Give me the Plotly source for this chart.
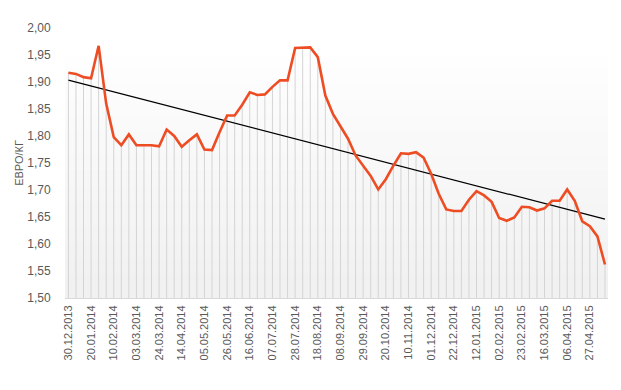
import numpy as np
import plotly.graph_objects as go
from datetime import date, timedelta

# Weekly dates (category labels)
start = date(2013, 12, 30)
n_weeks = 72
dates = [(start + timedelta(weeks=i)).strftime("%d.%m.%Y") for i in range(n_weeks)]

prices = [
    1.917, 1.915, 1.909, 1.907, 1.967, 1.860, 1.798, 1.783, 1.803, 1.783,
    1.783, 1.783, 1.781, 1.812, 1.800, 1.780, 1.792, 1.803, 1.775, 1.774,
    1.807, 1.838, 1.838, 1.858, 1.881, 1.876, 1.877, 1.891, 1.903, 1.903,
    1.963, 1.964, 1.964, 1.946, 1.875, 1.841, 1.818, 1.795, 1.764, 1.745,
    1.726, 1.701, 1.720, 1.745, 1.768, 1.767, 1.770, 1.760, 1.730, 1.693,
    1.664, 1.661, 1.661, 1.682, 1.698, 1.690, 1.678, 1.648, 1.643, 1.649,
    1.669, 1.668, 1.662, 1.666, 1.680, 1.680, 1.701, 1.680, 1.642, 1.633,
    1.614, 1.562,
]

y_ticks = [1.50, 1.55, 1.60, 1.65, 1.70, 1.75, 1.80, 1.85, 1.90, 1.95, 2.00]
y_base = 1.50

idx = np.arange(n_weeks)
tick_idx = list(range(0, n_weeks, 3))
tick_text = [dates[i] for i in tick_idx]

# linear trendline (least squares)
slope, intercept = np.polyfit(idx, prices, 1)
trend = slope * idx + intercept

# drop lines
drop_x, drop_y = [], []
for i, v in zip(idx, prices):
    drop_x += [i, i, None]
    drop_y += [y_base, v, None]

fig = go.Figure()

# gradient background
steps = 30
top_dom = 0.89
shapes = []
for k in range(steps):
    y0 = top_dom * k / steps
    y1 = top_dom * (k + 1) / steps
    c = int(241 + (254 - 241) * k / (steps - 1))
    shapes.append(dict(type="rect", xref="x domain", yref="y domain",
                       x0=0, x1=1, y0=y0, y1=y1 + 0.002,
                       fillcolor=f"rgb({c},{c},{c})", line=dict(width=0),
                       layer="below"))

fig.add_trace(go.Scatter(x=drop_x, y=drop_y, mode="lines",
                         line=dict(color="#d4d4d4", width=1),
                         hoverinfo="skip", showlegend=False))
fig.add_trace(go.Scatter(x=idx, y=trend, mode="lines",
                         line=dict(color="#000000", width=1.2),
                         showlegend=False))
fig.add_trace(go.Scatter(x=idx, y=prices, mode="lines",
                         line=dict(color="#EE4D24", width=2.6),
                         showlegend=False))

font_family = "Liberation Sans, Arial, sans-serif"
fig.update_layout(
    width=613, height=382,
    margin=dict(l=57, r=13, t=20, b=92),
    paper_bgcolor="white", plot_bgcolor="white",
    separators=", ",
    shapes=shapes,
    font=dict(family=font_family, size=11, color="#595959"),
    xaxis=dict(
        range=[-0.45, 71.4], automargin=False,
        tickmode="array", tickvals=tick_idx, ticktext=tick_text,
        tickangle=-90, showgrid=False, zeroline=False,
        showline=True, linecolor="#d9d9d9", linewidth=1,
        ticks="outside", ticklen=2, tickcolor="rgba(0,0,0,0)",
        tickfont=dict(size=11, color="#595959"),
    ),
    yaxis=dict(
        range=[1.50, 2.00], automargin=False,
        tickmode="array", tickvals=y_ticks,
        tickformat=".2f", showgrid=False, zeroline=False, showline=False,
        ticks="outside", ticklen=11, tickcolor="rgba(0,0,0,0)",
        tickfont=dict(size=12, color="#595959"),
        title=dict(text="ЕВРО/КГ", font=dict(size=11, color="#595959"), standoff=1),
    ),
)

fig.write_html("out.html")
